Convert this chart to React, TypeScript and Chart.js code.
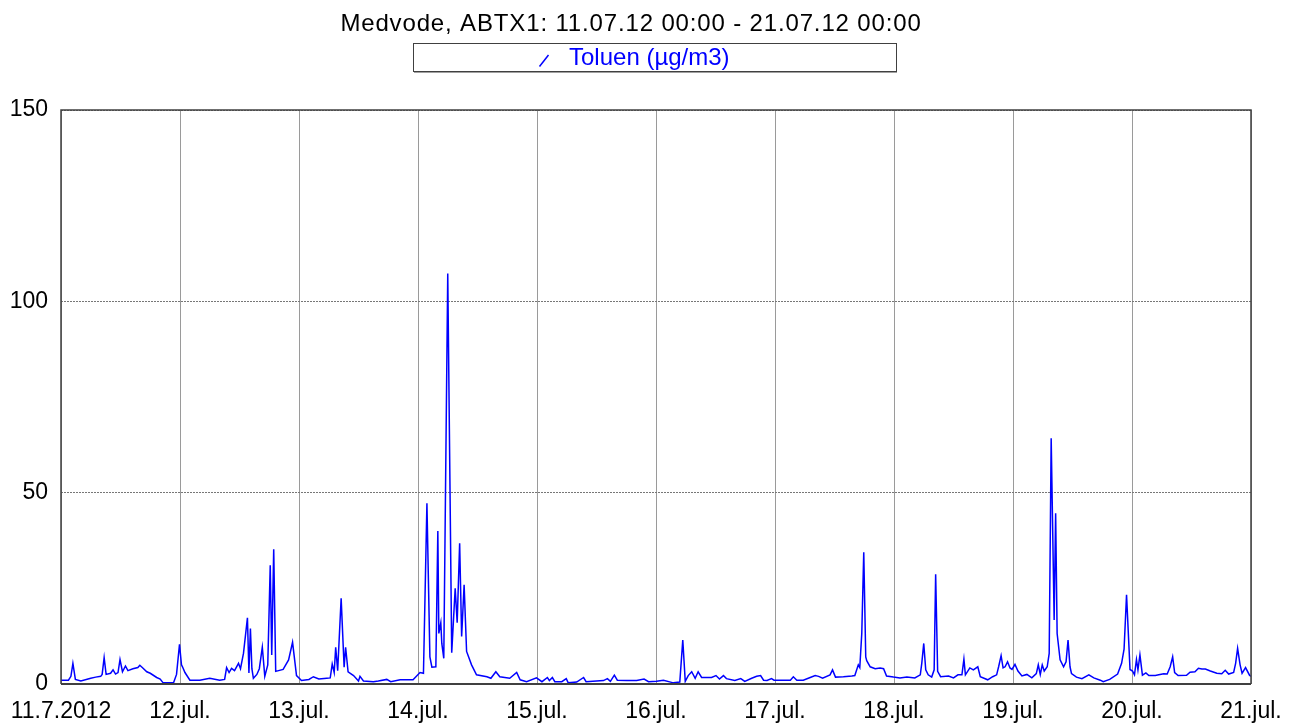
import React, { useEffect, useRef } from "react";
import { Chart, registerables } from "chart.js";

Chart.register(...registerables);

const TITLE = "Medvode, ABTX1: 11.07.12 00:00 - 21.07.12 00:00";
const SERIES_LABEL = "Toluen (µg/m3)";
const DAY_LABELS = ["11.7.2012", "12.jul.", "13.jul.", "14.jul.", "15.jul.", "16.jul.", "17.jul.", "18.jul.", "19.jul.", "20.jul.", "21.jul."];
const Y_TICKS = [0, 50, 100, 150];

// hours since 11.07.12 00:00
const HOURS = [
  0, 1.5, 2.0, 2.4, 2.9, 4, 6, 7, 8, 8.3, 8.7, 9.1, 10, 10.5, 11, 11.5, 11.9, 12.4, 13, 13.5,
  14.5, 15.5, 15.9, 16.5, 17.3, 18, 19.3, 20, 20.6, 22.7, 23.3, 23.9, 24.3, 24.5, 25, 26, 28, 30, 32, 33,
  33.4, 33.9, 34.4, 35, 35.8, 36.2, 36.8, 37.6, 37.9, 38.2, 38.5, 38.8, 39.5, 40, 40.6, 41.1, 41.7, 42.2, 42.5, 42.9,
  43.3, 44.8, 45.9, 46.7, 47.5, 48.5, 50, 50.9, 52, 53.6, 54.3, 54.7, 55.1, 55.4, 55.8, 56.5, 57.1, 57.4, 57.9, 59,
  60, 60.3, 61, 63, 64, 65.7, 66.5, 68.4, 71, 72.4, 73.1, 73.8, 74.4, 74.8, 75.6, 76, 76.2, 76.6, 76.8, 77.2,
  78, 78.8, 79.5, 79.9, 80.4, 80.8, 81.3, 81.8, 82.8, 83.8, 85.9, 86.7, 87.7, 88.5, 90.5, 91.9, 92.6, 93.9, 95.9, 97,
  98.1, 98.5, 99.1, 99.6, 101, 101.9, 102.3, 104, 105.4, 105.9, 108, 109.4, 110.2, 110.8, 111.6, 112.2, 114.1, 116.1, 117.6, 118.5,
  120.1, 121.5, 123.5, 124.8, 125.4, 125.9, 126.5, 127.2, 127.9, 128.5, 129.2, 131.2, 132.1, 132.8, 133.6, 134.2, 135.9, 137.1, 137.9, 139.3,
  140.3, 141.1, 141.7, 142.4, 143.3, 143.8, 145.7, 147.1, 147.7, 148.4, 149.7, 151.1, 152.1, 152.8, 153.6, 155.1, 155.6, 156.2, 157.8, 159.5,
  160.1, 160.8, 161.1, 161.5, 161.9, 162.3, 162.5, 163.2, 164.2, 165.2, 165.9, 166.5, 167.9, 169.2, 170.6, 172.2, 173.3, 173.6, 174, 174.4,
  174.9, 175.6, 176.1, 176.4, 176.8, 177.4, 179, 180, 180.9, 181.7, 182.1, 182.4, 183.3, 184, 184.9, 185.4, 186.9, 187.9, 188.7, 189.1,
  189.6, 190, 190.4, 190.9, 191.4, 191.8, 192.4, 193, 193.8, 194.8, 195.8, 196.7, 197.1, 197.5, 197.9, 198.3, 198.9, 199.3, 199.7, 200.3,
  200.6, 200.9, 201.5, 202.2, 202.7, 203.1, 203.5, 203.8, 204.8, 205.9, 207.3, 208.3, 209.6, 210.2, 211.5, 213.1, 213.9, 214.4, 214.9, 215.6,
  216.1, 216.5, 216.9, 217.2, 217.6, 218.1, 218.8, 219.4, 220.7, 221.4, 222.4, 223.1, 223.7, 224.2, 224.6, 225.3, 227, 227.7, 228.7, 229.4,
  230.1, 230.8, 231.8, 233.1, 234.1, 234.8, 235.5, 236.5, 236.9, 237.3, 237.8, 238.2, 238.9, 239.7, 240,
];

const TOLUEN = [
  1.0, 1.0, 2.0, 5.4, 1.2, 0.8, 1.5, 1.8, 2.0, 2.5, 6.9, 2.5, 2.8, 3.7, 2.6, 3.0, 6.4, 3.2, 4.7, 3.5,
  4.0, 4.3, 4.9, 4.2, 3.2, 2.8, 1.7, 1.3, 0.3, 0.3, 2.5, 10.4, 5.0, 4.5, 3.0, 1.0, 1.0, 1.5, 1.0, 1.2,
  4.3, 3.0, 4.1, 3.5, 5.4, 4.0, 8.0, 17.3, 2.9, 14.5, 4.0, 1.5, 2.5, 4.0, 9.6, 2.0, 5.0, 31.0, 7.6, 35.2,
  3.3, 3.8, 6.3, 10.9, 2.2, 0.9, 1.2, 1.9, 1.3, 1.5, 1.6, 5.2, 3.0, 9.6, 3.5, 22.4, 4.4, 9.6, 3.2, 2.2,
  0.8, 2.0, 0.8, 0.6, 0.8, 1.2, 0.6, 1.1, 1.1, 3.0, 2.8, 47.2, 7.1, 4.4, 4.5, 40.0, 13.2, 16.0, 10.6, 6.7,
  107.3, 8.2, 25.0, 16.0, 36.8, 12.4, 25.9, 8.5, 5.0, 2.4, 1.9, 1.5, 3.2, 1.9, 1.5, 3.0, 1.1, 0.6, 1.6, 0.6,
  1.7, 0.9, 1.7, 0.6, 0.6, 1.4, 0.3, 0.5, 1.7, 0.6, 0.8, 0.9, 1.4, 0.7, 2.3, 1.0, 0.9, 0.9, 1.3, 0.6,
  0.7, 1.0, 0.3, 0.5, 11.5, 0.7, 2.2, 3.2, 1.5, 3.2, 1.7, 1.7, 2.2, 1.3, 2.2, 1.4, 0.9, 1.4, 0.7, 1.5,
  2.0, 2.2, 1.0, 0.9, 1.4, 1.0, 1.0, 1.0, 1.9, 1.0, 1.0, 1.7, 2.2, 2.0, 1.5, 2.4, 3.7, 1.8, 1.9, 2.1,
  2.2, 5.0, 4.3, 13.2, 34.4, 7.1, 6.1, 4.5, 4.0, 4.2, 4.0, 2.1, 1.8, 1.6, 1.8, 1.6, 2.4, 5.4, 10.6, 3.7,
  2.4, 1.8, 3.7, 28.7, 3.3, 1.9, 2.1, 1.6, 2.4, 2.4, 6.5, 2.4, 4.2, 3.7, 4.5, 1.9, 1.1, 1.9, 2.4, 4.5,
  7.4, 4.2, 4.5, 5.8, 4.2, 3.8, 5.1, 3.4, 2.1, 2.5, 1.6, 2.7, 5.0, 2.5, 5.0, 3.4, 4.5, 8.0, 64.2, 16.7,
  44.6, 13.2, 6.3, 4.5, 5.8, 11.5, 4.5, 2.7, 1.8, 1.4, 2.4, 1.6, 1.0, 0.6, 1.2, 2.6, 5.4, 9.1, 23.3, 3.8,
  3.4, 2.4, 6.4, 3.7, 7.6, 2.3, 2.9, 2.2, 2.2, 2.4, 2.7, 2.6, 4.5, 7.1, 3.0, 2.2, 2.3, 3.1, 3.2, 4.1,
  3.9, 3.9, 3.4, 2.8, 2.7, 3.6, 2.6, 3.0, 5.4, 9.3, 5.0, 2.8, 4.3, 2.3, 2.0,
];

const FONT = "'Liberation Sans', Arial, sans-serif";

const decorPlugin = {
  id: "decor",
  afterDraw(chart: any) {
    const { ctx, chartArea } = chart;
    ctx.save();
    // title
    ctx.fillStyle = "#000";
    ctx.font = `24px ${FONT}`;
    ctx.textAlign = "center";
    ctx.textBaseline = "middle";
    (ctx as any).letterSpacing = "0.85px";
    ctx.fillText(TITLE, 631, 24);
    (ctx as any).letterSpacing = "0px";
    // legend box
    ctx.strokeStyle = "#404040";
    ctx.lineWidth = 1;
    ctx.strokeRect(413.5, 43.5, 483, 28);
    ctx.strokeStyle = "#a0a0a0";
    ctx.beginPath();
    ctx.moveTo(414, 72.5);
    ctx.lineTo(897, 72.5);
    ctx.stroke();
    // legend symbol
    ctx.strokeStyle = "#0000ff";
    ctx.lineWidth = 1.5;
    ctx.beginPath();
    ctx.moveTo(539.5, 66.5);
    ctx.lineTo(548.5, 55);
    ctx.stroke();
    ctx.fillStyle = "#0000ff";
    ctx.textAlign = "left";
    ctx.font = `24px ${FONT}`;
    ctx.fillText(SERIES_LABEL, 569, 58.5);
    // frame
    ctx.strokeStyle = "#404040";
    ctx.lineWidth = 1.5;
    ctx.beginPath();
    ctx.moveTo(chartArea.left, chartArea.bottom);
    ctx.lineTo(chartArea.left, chartArea.top);
    ctx.lineTo(chartArea.right, chartArea.top);
    ctx.lineTo(chartArea.right, chartArea.bottom);
    ctx.stroke();
    ctx.lineWidth = 2;
    ctx.beginPath();
    ctx.moveTo(chartArea.left, chartArea.bottom);
    ctx.lineTo(chartArea.right, chartArea.bottom);
    ctx.stroke();
    ctx.restore();
  },
};

export default function App() {
  const ref = useRef<HTMLCanvasElement>(null);
  useEffect(() => {
    const canvas = ref.current;
    if (!canvas) return;
    const chart = new Chart(canvas, {
      type: "line",
      data: {
        datasets: [
          {
            label: SERIES_LABEL,
            data: HOURS.map((h, i) => ({ x: h, y: TOLUEN[i] })),
            borderColor: "#0000ff",
            borderWidth: 1.5,
            pointRadius: 0,
            tension: 0,
            fill: false,
          },
        ],
      },
      options: {
        responsive: false,
        animation: false,
        layout: { padding: { top: 110, right: 43, left: 0, bottom: 0 } },
        plugins: { legend: { display: false }, title: { display: false }, tooltip: { enabled: false } },
        scales: {
          x: {
            type: "linear",
            min: 0,
            max: 240,
            afterFit: (s: any) => {
              s.height = 42;
              s.paddingLeft = 0;
              s.paddingRight = 0;
            },
            afterBuildTicks: (s: any) => { s.ticks = DAY_LABELS.map((_, i) => ({ value: i * 24 })); },
            ticks: {
              autoSkip: false,
              maxRotation: 0,
              padding: 14,
              color: "#000",
              font: { family: FONT, size: 23 },
              callback: (v: any) => DAY_LABELS[Math.round(Number(v) / 24)] ?? "",
            },
            grid: { color: "#9a9a9a", lineWidth: 1, drawTicks: false },
            border: { display: false },
          },
          y: {
            min: 0,
            max: 150,
            afterFit: (s: any) => {
              s.width = 61;
              s.paddingTop = 0;
              s.paddingBottom = 0;
            },
            afterBuildTicks: (s: any) => { s.ticks = Y_TICKS.map((v) => ({ value: v })); },
            ticks: {
              padding: 13,
              color: "#000",
              font: { family: FONT, size: 23 },
            },
            grid: { color: "#777", lineWidth: 1, drawTicks: false },
            border: { display: false, dash: [2, 1] },
          },
        },
      },
      plugins: [decorPlugin],
    });
    return () => chart.destroy();
  }, []);
  return (
    <div style={{ position: "absolute", left: 0, top: 0, width: 1294, height: 726, background: "#fff" }}>
      <canvas ref={ref} width={1294} height={726} />
    </div>
  );
}
